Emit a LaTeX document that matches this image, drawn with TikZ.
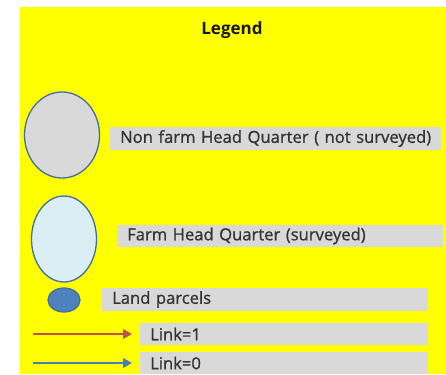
\documentclass[tikz,border=0pt]{standalone}
\usepackage{fontspec}
\setmainfont{Open Sans}
\newfontfamily\labelfont[FakeBold=0.9]{Open Sans}
\usetikzlibrary{shapes.geometric,arrows.meta}
\definecolor{legendbg}{HTML}{FFFF00}
\definecolor{labelbg}{HTML}{D9D9D9}
\definecolor{rimblue}{HTML}{41719C}
\definecolor{hqgrey}{HTML}{D9D9D9}
\definecolor{hqblue}{HTML}{DAEEF3}
\definecolor{parcelblue}{HTML}{4F81BD}
\definecolor{linkred}{HTML}{C0504D}
\definecolor{linkblue}{HTML}{4A7EBB}
\definecolor{labeltext}{HTML}{333333}
\begin{document}
\begin{tikzpicture}[x=1pt,y=-1pt,
  symbol/.style={ellipse, draw=rimblue, line width=1.3pt, inner sep=0pt},
  labelbox/.style={rectangle, fill=labelbg, anchor=west, inner sep=0pt,
    inner xsep=10pt, text width=#1, align=left, text=labeltext,
    font=\labelfont\fontsize{16.6}{17}\selectfont, minimum height=22pt},
  link/.style={line width=2.4pt, -{Triangle[length=9pt,width=9.5pt]}}]
\useasboundingbox (0,0) rectangle (446,374);
\fill[white] (0,0) rectangle (446,374);
\fill[legendbg] (20,7) rectangle (446,374);
\node[font=\bfseries\fontsize{17}{18}\selectfont, text=black!90] (title) at (232,30) {Legend};
% symbols
\node[symbol, fill=hqgrey, minimum width=75pt, minimum height=86pt] (nonfarm) at (62,135) {};
\node[symbol, fill=hqblue, minimum width=65pt, minimum height=86pt] (farm) at (64,239) {};
\node[symbol, fill=parcelblue, minimum width=32pt, minimum height=24pt] (parcel) at (64,300) {};
% labels
\node[labelbox=311pt] (nonfarmlbl) at (110,138.5) {\mbox{Non farm Head Quarter ( not surveyed)}};
\node[labelbox=306pt] (farmlbl) at (117,236) {Farm Head Quarter (surveyed)};
\node[labelbox=306pt, minimum height=23pt] (parcellbl) at (102,299.5) {Land parcels};
\node[labelbox=268pt] (link1lbl) at (140,334) {Link=1};
\node[labelbox=268pt] (link0lbl) at (140,363) {Link=0};
% link arrows
\coordinate (l1s) at (33,334);
\coordinate (l1e) at (132,334);
\coordinate (l0s) at (33,363);
\coordinate (l0e) at (132,363);
\draw[link, draw=linkred, fill=linkred] (l1s) -- (l1e);
\draw[link, draw=linkblue, fill=linkblue] (l0s) -- (l0e);
\end{tikzpicture}
\end{document}
